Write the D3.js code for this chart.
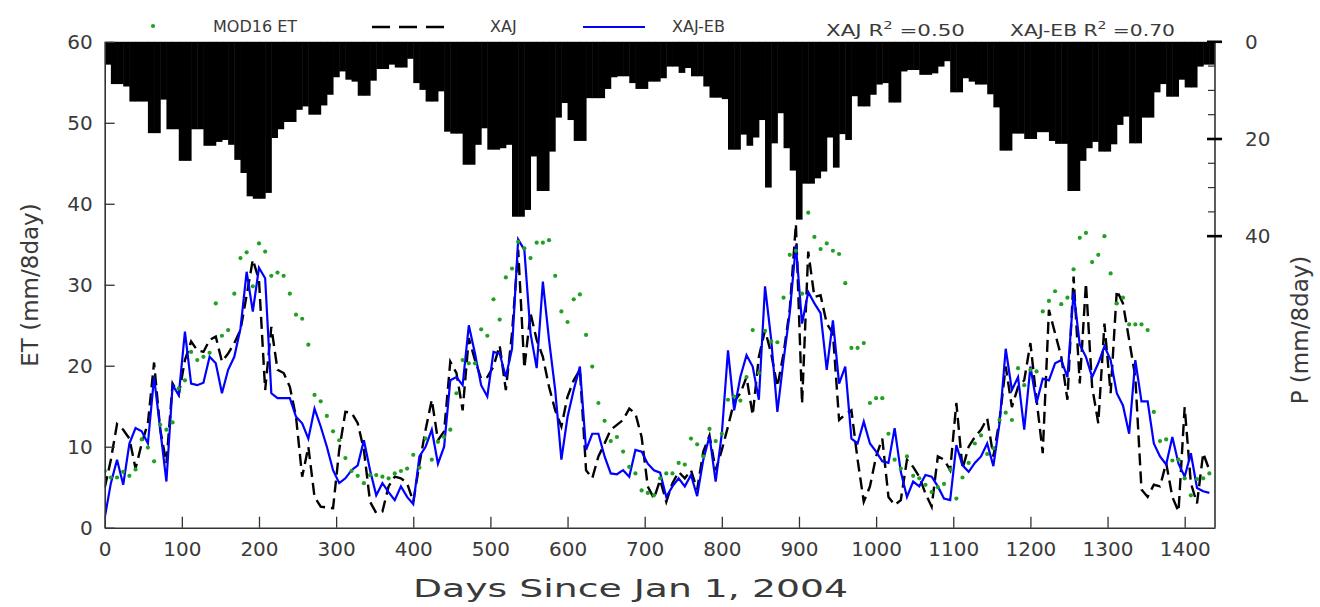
<!DOCTYPE html>
<html><head><meta charset="utf-8">
<script src="https://cdn.jsdelivr.net/npm/d3@7"></script>
<style>
body{margin:0;background:#fff}
svg{display:block}
text{font-family:"DejaVu Sans",sans-serif;fill:#3a3a3a}
</style>
</head><body>
<svg id="chart" width="1320" height="607"></svg>
<script>
// ---- data (8-day periods, day = index * 8) ----
const precip = [
4.7,8.7,8.7,9.2,12.3,12.3,12.3,18.8,18.8,11.9,
18.0,18.0,24.5,24.5,18.0,18.0,21.4,21.4,20.6,20.2,
21.2,24.3,27.0,31.8,32.3,32.3,31.1,19.8,18.0,16.5,
16.5,14.0,13.3,15.0,15.0,13.1,10.9,7.3,6.1,7.8,
8.2,11.1,11.1,8.0,5.6,5.6,4.7,5.3,5.3,3.5,
8.5,9.9,12.3,12.3,10.2,18.5,18.9,18.9,25.3,25.3,
21.2,17.8,22.2,22.2,21.9,21.2,36.0,36.0,34.6,23.6,
30.7,30.7,22.6,15.6,12.6,16.1,20.4,20.4,11.6,11.6,
11.6,9.7,7.3,7.1,7.1,8.5,9.7,9.7,8.2,8.2,
7.5,5.1,5.1,6.4,5.4,7.1,7.1,9.2,11.5,11.5,
11.8,22.2,22.2,19.1,21.4,19.7,16.1,30.0,20.9,14.7,
21.9,26.5,36.6,29.2,29.2,28.1,26.7,19.7,25.9,19.0,
20.2,11.2,13.3,13.3,10.9,8.8,8.5,12.5,12.5,6.1,
5.8,5.8,6.8,6.8,6.5,5.1,4.0,10.4,10.4,7.5,
8.2,8.8,8.8,10.8,13.5,22.4,22.4,18.9,18.9,20.0,
20.0,18.6,18.6,20.4,21.0,21.0,30.7,30.7,24.5,21.9,
20.6,22.6,22.6,21.1,17.1,15.4,20.9,20.9,15.6,15.6,
10.4,8.7,11.3,11.3,7.8,9.4,9.4,5.1,4.7,4.7];

const mod16 = [
7.0,6.2,6.2,6.9,6.4,7.2,10.9,9.9,8.2,12.7,
12.1,13.0,17.2,18.2,21.7,20.7,21.1,21.6,27.7,23.7,
24.4,28.9,33.3,34.0,29.8,35.1,34.1,31.1,31.5,31.1,
28.9,26.3,25.8,22.6,16.4,15.6,13.8,11.9,10.8,8.6,
7.0,6.4,5.5,6.5,6.5,6.3,6.1,6.7,7.0,7.3,
9.0,7.4,11.0,8.4,10.6,11.2,12.1,16.6,20.7,20.3,
20.3,24.5,23.7,28.2,25.7,30.9,32.0,35.3,34.5,33.3,
35.2,35.2,35.5,31.1,26.7,25.4,28.2,28.8,23.8,19.9,
15.4,13.2,10.7,11.2,9.4,7.5,6.7,4.6,4.3,4.0,
6.1,6.7,6.7,8.0,7.8,11.0,10.3,8.8,12.2,10.7,
11.6,15.8,16.2,15.7,18.6,24.4,19.1,24.3,23.0,22.9,
28.4,33.7,34.2,28.9,38.9,35.9,34.4,35.1,34.2,33.8,
30.2,22.2,22.2,22.8,15.4,16.0,16.0,11.6,8.4,7.3,
8.8,6.4,6.1,5.3,4.4,5.0,5.4,7.2,3.6,6.2,
8.0,10.4,11.4,9.1,9.8,13.3,14.2,13.3,19.7,17.6,
19.5,19.3,26.7,28.0,29.2,27.6,28.4,31.9,35.8,36.4,
32.8,33.7,36.0,31.4,27.7,28.4,25.1,25.1,25.1,24.4,
14.3,10.7,10.9,8.3,8.4,6.1,4.0,6.0,6.1,6.7];

const xaj = [
4.9,8.4,12.8,12.1,11.0,7.3,10.4,12.9,20.4,12.1,
8.0,17.8,16.4,20.7,23.0,21.9,21.7,23.2,23.6,20.5,
21.5,22.8,24.4,28.7,33.1,30.6,17.0,24.8,19.5,19.1,
17.4,13.7,6.3,10.0,3.8,2.6,2.5,2.4,9.6,14.3,
14.2,12.9,9.6,3.2,1.8,2.0,5.1,6.3,6.1,5.5,
3.2,7.9,12.1,15.8,10.8,11.9,20.5,19.1,14.5,23.4,
20.7,18.4,18.6,19.9,22.5,17.0,24.0,34.3,19.7,26.5,
23.2,21.1,17.4,14.5,12.5,16.2,18.2,19.5,7.1,6.1,
8.8,10.4,12.1,12.7,13.3,14.7,14.1,11.2,5.1,3.6,
5.9,3.2,5.5,6.9,6.1,7.1,4.7,9.4,11.4,7.1,
9.6,12.5,15.6,16.6,18.6,13.9,21.1,24.4,21.5,17.4,
21.5,26.9,37.5,15.3,34.1,28.5,28.7,25.2,24.0,13.3,
14.0,14.5,8.4,3.2,5.1,8.8,11.0,3.8,2.8,3.4,
8.4,7.5,6.3,4.2,2.6,8.8,8.4,7.1,15.4,7.3,
10.0,11.2,12.1,13.5,8.8,13.3,19.9,14.9,17.4,18.2,
22.8,15.8,9.2,26.9,24.0,21.1,15.8,31.0,17.8,30.2,
17.4,12.9,25.2,16.6,29.3,27.7,23.2,18.6,4.7,3.8,
5.3,5.1,8.0,3.8,2.0,14.9,5.5,3.0,9.2,7.1];

const xajEB = [
1.2,5.5,8.4,5.3,10.4,12.3,11.9,10.4,18.6,12.1,
5.7,17.6,16.4,24.2,17.8,17.6,17.9,21.1,20.3,16.6,
19.5,21.1,24.6,31.6,26.7,32.1,30.8,16.6,16.0,16.0,
16.0,13.7,12.9,11.0,14.7,12.5,10.0,7.1,5.5,6.1,
7.1,7.7,10.8,7.1,4.0,5.5,4.4,3.4,5.1,3.8,
2.9,8.8,10.0,12.1,7.9,10.0,18.2,18.6,17.6,25.0,
21.5,17.6,16.2,21.7,21.5,18.6,22.1,35.6,34.3,24.0,
19.7,30.4,23.2,17.0,8.4,13.7,17.0,19.9,9.6,11.6,
11.6,8.8,6.7,6.6,7.1,6.3,9.6,9.4,7.9,7.1,
6.8,3.8,5.1,6.1,5.1,6.5,3.9,8.4,11.3,5.7,
11.6,21.9,14.5,18.6,21.3,19.9,15.8,29.8,23.2,14.3,
20.7,26.5,34.9,25.2,29.1,27.7,26.5,19.5,25.6,17.8,
19.9,11.0,10.4,13.1,10.4,9.4,8.2,8.0,12.3,6.9,
3.8,5.7,5.1,6.5,6.3,5.1,3.6,3.4,10.2,7.7,
6.9,8.0,8.8,10.4,7.6,12.9,22.1,17.0,18.6,12.1,
19.9,15.4,18.4,18.2,20.3,20.7,18.6,29.1,22.6,21.1,
18.6,20.3,22.4,20.7,16.6,15.1,11.6,20.7,15.6,15.6,
10.4,8.8,7.8,11.2,7.9,6.3,9.2,4.9,4.5,4.3];

const periodDays = 8;
const days = precip.map((_, i) => i * periodDays);
const xTickValues = [0,100,200,300,400,500,600,700,800,900,1000,1100,1200,1300,1400];
const etTickValues = [0,10,20,30,40,50,60];
const pMajorTicks = [0,20,40];
const pMinorTicks = [5,10,15,25,30,35];
const legendLabels = ["MOD16 ET","XAJ","XAJ-EB"];
const r2Labels = [{name:"XAJ", val:"0.50"},{name:"XAJ-EB", val:"0.70"}];

// ---- layout ----
const L = 104.7, R = 1215, T = 41.8, B = 527.7;
const svg = d3.select("#chart");
const x = d3.scaleLinear().domain([0, 1439.3]).range([L, R]);
const y = d3.scaleLinear().domain([0, 60]).range([B, T]);
const yp = d3.scaleLinear().domain([0, 100]).range([T, B]);
const axisColor = "#333";
const textColor = "#3a3a3a";

svg.append("defs").append("clipPath").attr("id","clip")
  .append("rect").attr("x",L).attr("y",T-1).attr("width",R-L).attr("height",B-T+2);

// precipitation bars (hanging from top)
svg.append("g").attr("clip-path","url(#clip)")
  .selectAll("rect").data(precip).join("rect")
  .attr("x",(d,i)=>x(days[i]))
  .attr("width",(d,i)=>x(days[i]+periodDays)-x(days[i])+0.5)
  .attr("y",yp(0))
  .attr("height",d=>yp(d)-yp(0))
  .attr("fill","#000");

// lines
const line = arr => d3.line().x((d,i)=>x(days[i])).y(d=>y(d))(arr);
const gLines = svg.append("g").attr("clip-path","url(#clip)");
gLines.append("path").attr("d",line(xaj)).attr("fill","none")
  .attr("stroke","#000").attr("stroke-width",2.4).attr("stroke-dasharray","12,6");
gLines.append("path").attr("d",line(xajEB)).attr("fill","none")
  .attr("stroke","#0000ff").attr("stroke-width",2.2);
gLines.selectAll("circle").data(mod16).join("circle")
  .attr("cx",(d,i)=>x(days[i])).attr("cy",d=>y(d)).attr("r",2.1)
  .attr("fill","#22a022");

// left axis
const gl = svg.append("g").attr("transform",`translate(${L},0)`)
  .call(d3.axisLeft(y).tickValues(etTickValues).tickSizeInner(-10).tickSizeOuter(0).tickPadding(12));
// bottom axis
const gb = svg.append("g").attr("transform",`translate(0,${B})`)
  .call(d3.axisBottom(x).tickValues(xTickValues).tickFormat(d3.format("d"))
    .tickSizeInner(-11).tickSizeOuter(0).tickPadding(14));
[gl,gb].forEach(g=>{
  g.select(".domain").attr("stroke",axisColor).attr("stroke-width",1.6);
  g.selectAll(".tick line").attr("stroke",axisColor).attr("stroke-width",1.3);
  g.selectAll(".tick text").attr("font-size",20).attr("fill",textColor)
   .attr("font-family","DejaVu Sans, sans-serif");
});

// right axis (precip)
const gr = svg.append("g");
gr.append("line").attr("x1",R).attr("x2",R).attr("y1",T).attr("y2",B)
  .attr("stroke",axisColor).attr("stroke-width",1.6);
gr.selectAll("line.maj").data(pMajorTicks).join("line").attr("class","maj")
  .attr("x1",R-8).attr("x2",R+7).attr("y1",d=>yp(d)).attr("y2",d=>yp(d))
  .attr("stroke","#000").attr("stroke-width",2.6);
gr.selectAll("line.min").data(pMinorTicks).join("line").attr("class","min")
  .attr("x1",R-7).attr("x2",R).attr("y1",d=>yp(d)).attr("y2",d=>yp(d))
  .attr("stroke",axisColor).attr("stroke-width",1.2);
gr.selectAll("text").data(pMajorTicks).join("text")
  .attr("x",R+30).attr("y",d=>yp(d)).attr("dy","0.36em")
  .attr("font-size",20).text(d=>d);

// axis titles
svg.append("text").attr("transform","translate(38,285) rotate(-90)")
  .attr("text-anchor","middle").attr("font-size",23).text("ET (mm/8day)");
svg.append("text").attr("transform","translate(1308,330) rotate(-90)")
  .attr("text-anchor","middle").attr("font-size",23).text("P (mm/8day)");
svg.append("text").attr("x",413).attr("y",597)
  .attr("font-size",24).attr("textLength",435).attr("lengthAdjust","spacingAndGlyphs")
  .text("Days Since Jan 1, 2004");

// legend
const lg = svg.append("g");
lg.append("circle").attr("cx",153).attr("cy",26).attr("r",2.1).attr("fill","#22a022");
lg.append("text").attr("x",213).attr("y",32).attr("font-size",16).text(legendLabels[0]);
lg.append("line").attr("x1",372).attr("x2",446).attr("y1",27).attr("y2",27)
  .attr("stroke","#000").attr("stroke-width",2.4).attr("stroke-dasharray","18,9");
lg.append("text").attr("x",490).attr("y",32).attr("font-size",16).text(legendLabels[1]);
lg.append("line").attr("x1",583).attr("x2",645).attr("y1",27).attr("y2",27)
  .attr("stroke","#0000ff").attr("stroke-width",2.2);
lg.append("text").attr("x",672).attr("y",32).attr("font-size",16).text(legendLabels[2]);
const r2x = [826, 1010];
const r2w = [139, 165];
r2Labels.forEach((r,k)=>{
  const t = lg.append("text").attr("x",r2x[k]).attr("y",36).attr("font-size",16)
    .attr("textLength",r2w[k]).attr("lengthAdjust","spacingAndGlyphs");
  t.append("tspan").text(r.name+" R");
  t.append("tspan").attr("dy",-7).attr("font-size",11).text("2");
  t.append("tspan").attr("dy",7).text(" =" + r.val);
});
</script>
</body></html>
